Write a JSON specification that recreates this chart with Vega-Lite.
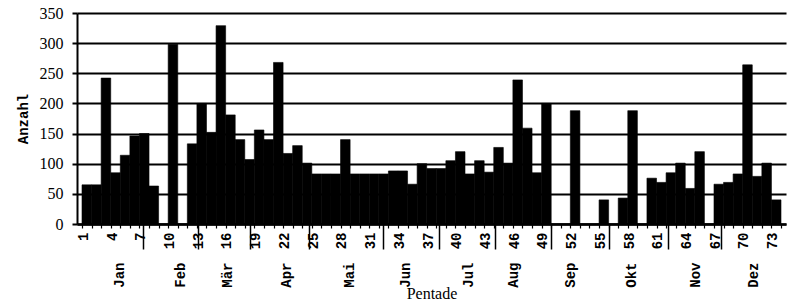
{
  "$schema": "https://vega.github.io/schema/vega-lite/v6.json",
  "width": 709,
  "height": 211,
  "autosize": "none",
  "padding": {"left": 77, "top": 13, "right": 1, "bottom": 79},
  "background": "white",
  "config": {
    "view": {"stroke": null},
    "axis": {"labelColor": "black", "titleColor": "black", "labelFlush": false, "labelOverlap": false, "labelBound": false}
  },
  "data": {
    "values": [
      {"p": 1, "n": 65}, {"p": 2, "n": 65}, {"p": 3, "n": 242}, {"p": 4, "n": 85}, {"p": 5, "n": 114},
      {"p": 6, "n": 146}, {"p": 7, "n": 150}, {"p": 8, "n": 63}, {"p": 9, "n": 0}, {"p": 10, "n": 298},
      {"p": 11, "n": 0}, {"p": 12, "n": 133}, {"p": 13, "n": 200}, {"p": 14, "n": 152}, {"p": 15, "n": 329},
      {"p": 16, "n": 181}, {"p": 17, "n": 140}, {"p": 18, "n": 107}, {"p": 19, "n": 156}, {"p": 20, "n": 140},
      {"p": 21, "n": 268}, {"p": 22, "n": 117}, {"p": 23, "n": 130}, {"p": 24, "n": 101}, {"p": 25, "n": 83},
      {"p": 26, "n": 83}, {"p": 27, "n": 83}, {"p": 28, "n": 140}, {"p": 29, "n": 83}, {"p": 30, "n": 83},
      {"p": 31, "n": 83}, {"p": 32, "n": 83}, {"p": 33, "n": 88}, {"p": 34, "n": 88}, {"p": 35, "n": 66},
      {"p": 36, "n": 100}, {"p": 37, "n": 92}, {"p": 38, "n": 92}, {"p": 39, "n": 105}, {"p": 40, "n": 120},
      {"p": 41, "n": 83}, {"p": 42, "n": 105}, {"p": 43, "n": 86}, {"p": 44, "n": 127}, {"p": 45, "n": 101},
      {"p": 46, "n": 239}, {"p": 47, "n": 159}, {"p": 48, "n": 85}, {"p": 49, "n": 200}, {"p": 50, "n": 0},
      {"p": 51, "n": 0}, {"p": 52, "n": 188}, {"p": 53, "n": 0}, {"p": 54, "n": 0}, {"p": 55, "n": 40},
      {"p": 56, "n": 0}, {"p": 57, "n": 43}, {"p": 58, "n": 188}, {"p": 59, "n": 0}, {"p": 60, "n": 76},
      {"p": 61, "n": 69}, {"p": 62, "n": 85}, {"p": 63, "n": 101}, {"p": 64, "n": 59}, {"p": 65, "n": 120},
      {"p": 66, "n": 0}, {"p": 67, "n": 66}, {"p": 68, "n": 69}, {"p": 69, "n": 83}, {"p": 70, "n": 264},
      {"p": 71, "n": 79}, {"p": 72, "n": 101}, {"p": 73, "n": 40}
    ]
  },
  "transform": [
    {"calculate": "datum.p - 0.5", "as": "p0"},
    {"calculate": "datum.p + 0.5", "as": "p1"}
  ],
  "layer": [
    {
      "mark": {"type": "bar", "color": "black", "orient": "vertical", "stroke": "black", "strokeWidth": 0.6},
      "encoding": {
        "x": {
          "field": "p0", "type": "quantitative",
          "scale": {"domain": [0.5, 73.5], "nice": false, "zero": false},
          "axis": {
            "orient": "bottom", "title": null, "labels": false, "grid": false,
            "values": [0.5,1.5,2.5,3.5,4.5,5.5,6.5,7.5,8.5,9.5,10.5,11.5,12.5,13.5,14.5,15.5,16.5,17.5,18.5,19.5,20.5,21.5,22.5,23.5,24.5,25.5,26.5,27.5,28.5,29.5,30.5,31.5,32.5,33.5,34.5,35.5,36.5,37.5,38.5,39.5,40.5,41.5,42.5,43.5,44.5,45.5,46.5,47.5,48.5,49.5,50.5,51.5,52.5,53.5,54.5,55.5,56.5,57.5,58.5,59.5,60.5,61.5,62.5,63.5,64.5,65.5,66.5,67.5,68.5,69.5,70.5,71.5,72.5,73.5],
            "tickSize": 4, "tickWidth": 1.2, "tickColor": "black",
            "domainColor": "black", "domainWidth": 2.5
          }
        },
        "x2": {"field": "p1"},
        "y": {
          "field": "n", "type": "quantitative",
          "scale": {"domain": [0, 350], "nice": false},
          "axis": {
            "title": "Anzahl", "titleFont": "Liberation Mono", "titleFontWeight": "bold", "titleFontSize": 14, "titlePadding": 9,
            "values": [0, 50, 100, 150, 200, 250, 300, 350],
            "labelFont": "Liberation Serif", "labelFontSize": 16, "labelPadding": 9,
            "tickSize": 5, "tickWidth": 2, "tickColor": "black",
            "domainColor": "black", "domainWidth": 2,
            "grid": true, "gridColor": "black", "gridWidth": 1.8
          }
        },
        "y2": {"datum": 0}
      }
    },
    {
      "mark": {"type": "bar", "opacity": 0},
      "encoding": {
        "x": {
          "field": "p0", "type": "quantitative",
          "axis": {
            "orient": "bottom", "title": null, "grid": false, "domain": false, "ticks": false, "tickSize": 0,
            "values": [1,4,7,10,13,16,19,22,25,28,31,34,37,40,43,46,49,52,55,58,61,64,67,70,73],
            "labelAngle": -90, "labelPadding": 8, "labelOffset": -3.5,
            "labelFont": "Liberation Mono", "labelFontWeight": "bold", "labelFontSize": 14
          }
        },
        "x2": {"field": "p1"}
      }
    },
    {
      "mark": {"type": "bar", "opacity": 0},
      "encoding": {
        "x": {
          "field": "p0", "type": "quantitative",
          "axis": {
            "orient": "bottom", "title": null, "grid": false, "domain": false, "labels": false,
            "values": [6.9, 12.6, 18.0, 24.2, 31.9, 37.8, 43.6, 49.5, 55.5, 61.7, 67.2],
            "tickSize": 25, "tickWidth": 1.5, "tickColor": "black"
          }
        },
        "x2": {"field": "p1"}
      }
    },
    {
      "mark": {"type": "bar", "opacity": 0},
      "encoding": {
        "x": {
          "field": "p0", "type": "quantitative",
          "axis": {
            "orient": "bottom", "grid": false, "domain": false, "ticks": false, "tickSize": 0,
            "values": [4.4, 10.8, 15.7, 21.9, 28.4, 34.3, 40.9, 45.6, 51.5, 57.9, 64.6, 70.6],
            "labelExpr": "datum.value < 7 ? 'Jan' : datum.value < 13 ? 'Feb' : datum.value < 18 ? 'Mär' : datum.value < 24 ? 'Apr' : datum.value < 31 ? 'Mai' : datum.value < 37 ? 'Jun' : datum.value < 43 ? 'Jul' : datum.value < 49 ? 'Aug' : datum.value < 55 ? 'Sep' : datum.value < 61 ? 'Okt' : datum.value < 67 ? 'Nov' : 'Dez'",
            "labelAngle": -90, "labelPadding": 38,
            "labelFont": "Liberation Mono", "labelFontWeight": "bold", "labelFontSize": 14,
            "title": "Pentade", "titleFont": "Liberation Serif", "titleFontWeight": "normal", "titleFontSize": 16, "titlePadding": -2
          }
        },
        "x2": {"field": "p1"}
      }
    }
  ],
  "resolve": {"axis": {"x": "independent"}}
}
